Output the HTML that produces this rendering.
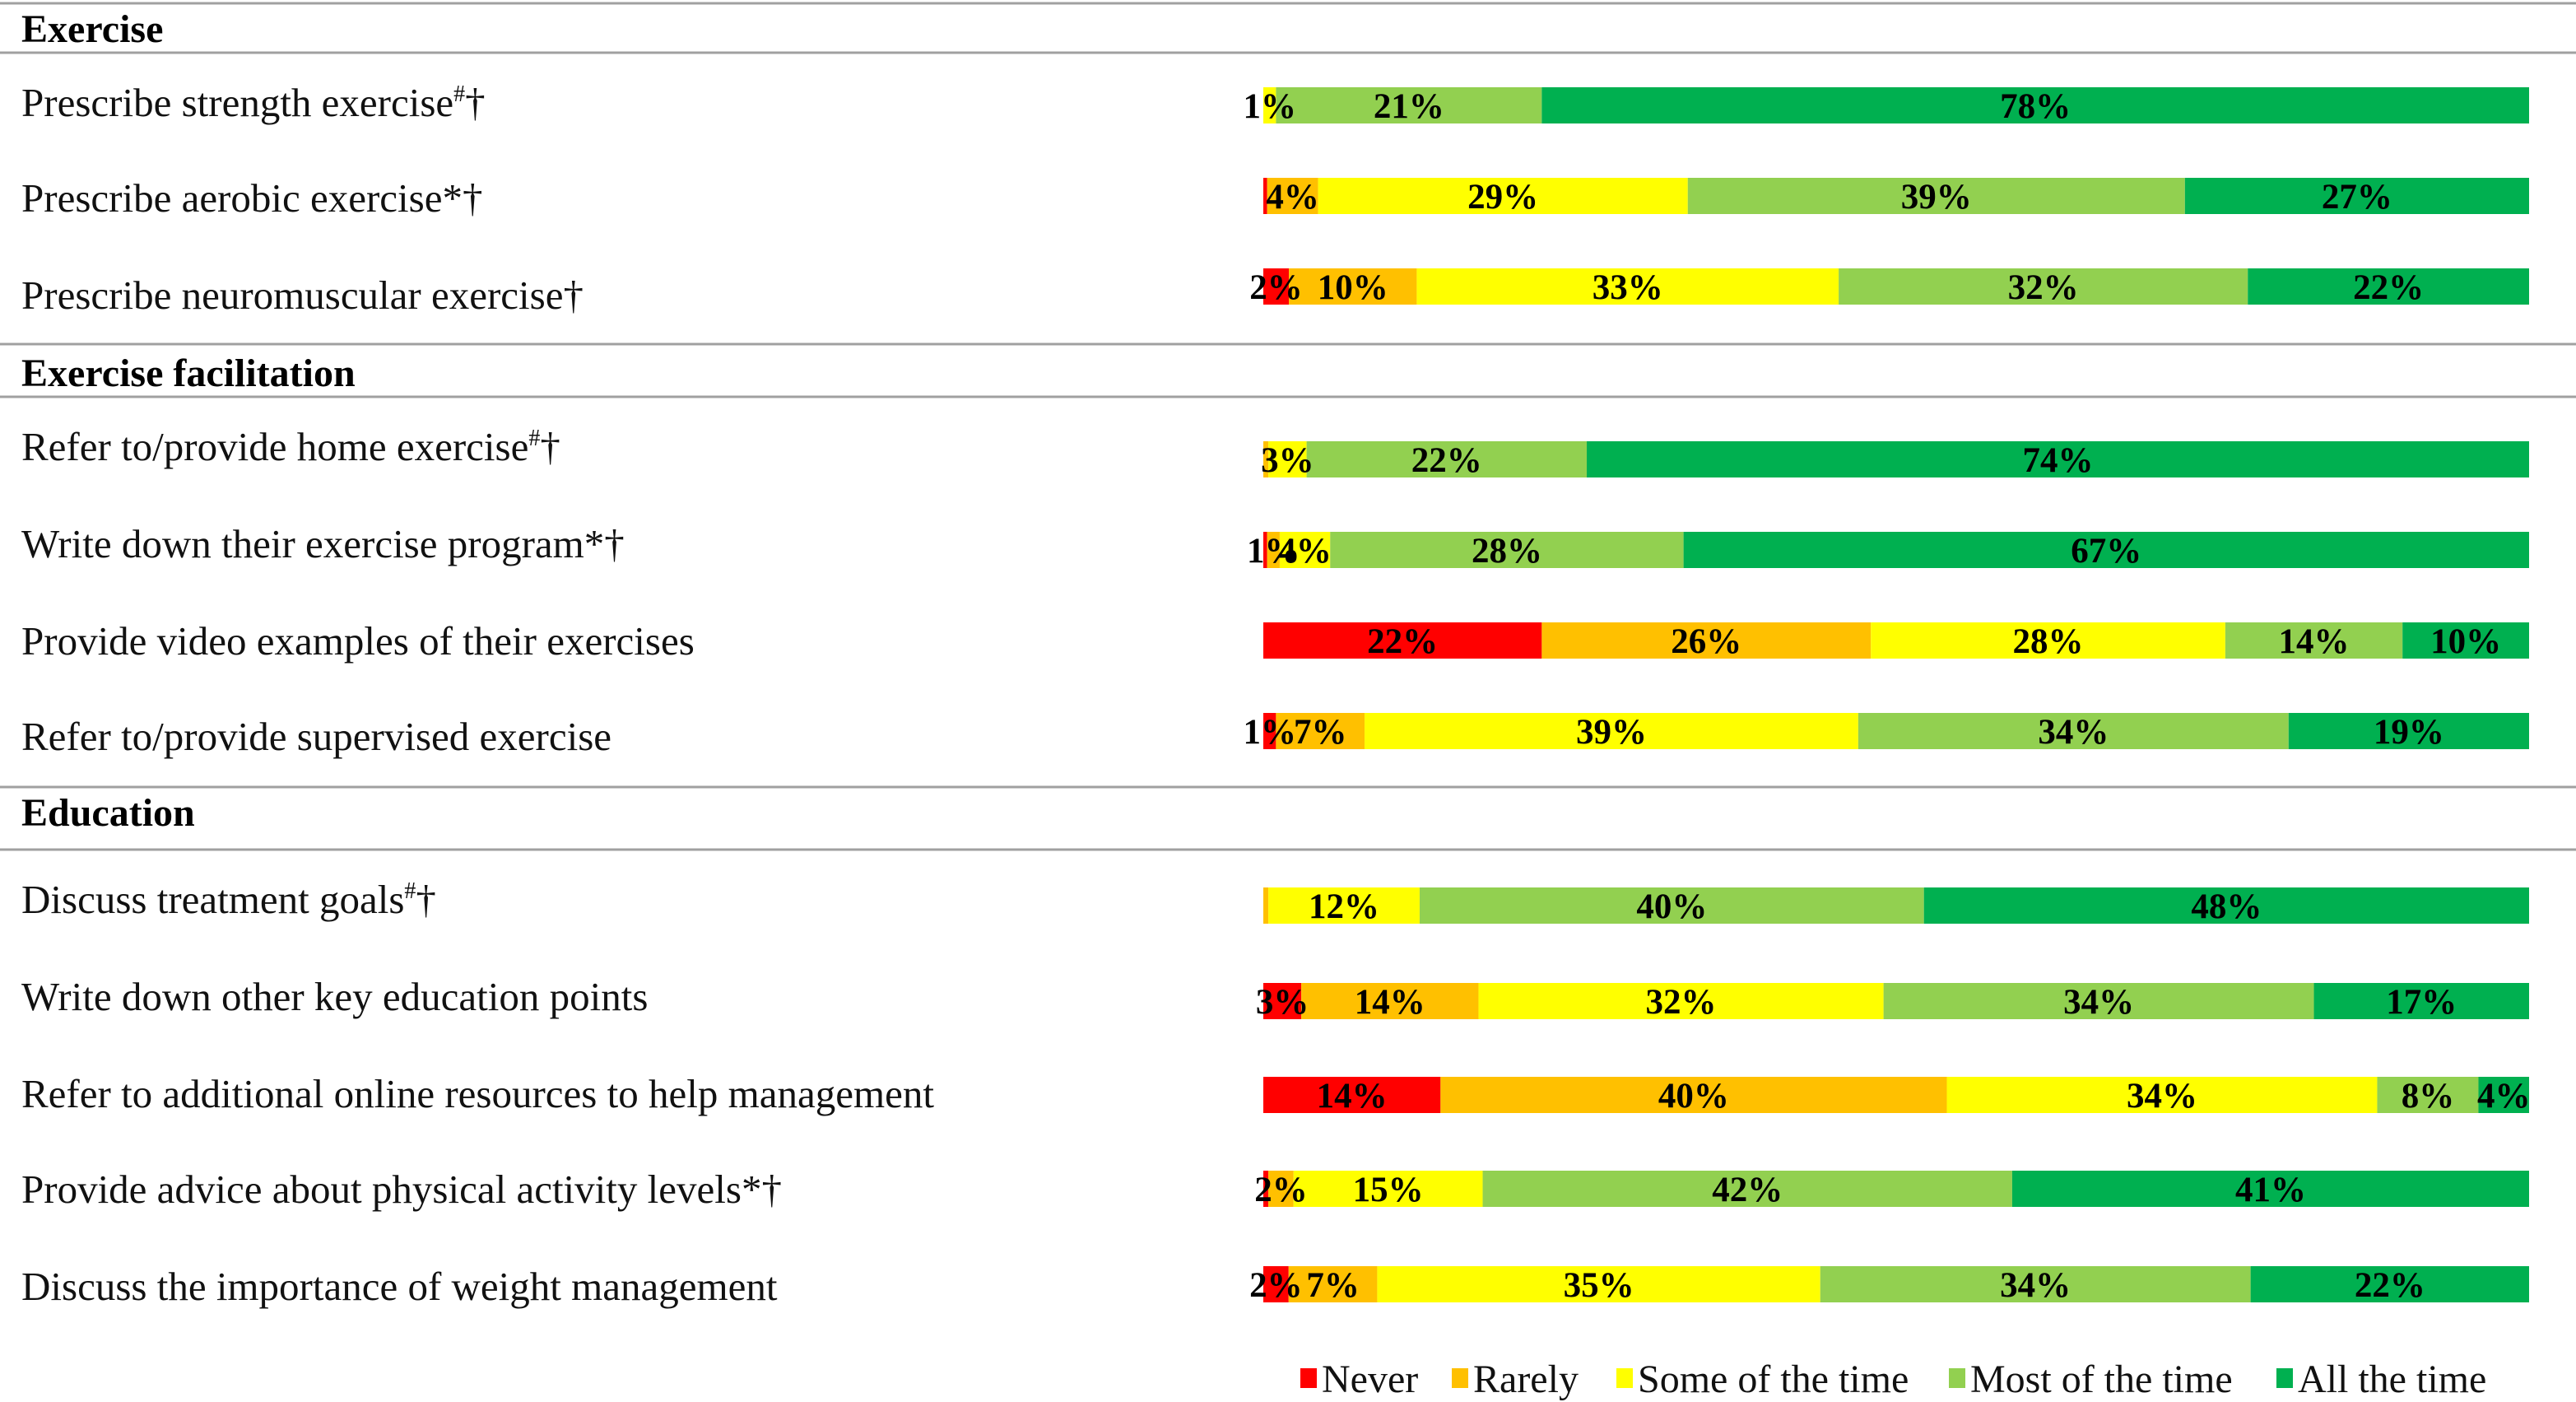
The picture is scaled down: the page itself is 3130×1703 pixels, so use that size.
<!DOCTYPE html>
<html><head><meta charset="utf-8"><style>
html,body{margin:0;padding:0;background:#fff;}
svg{display:block;}
</style></head><body>
<svg id="chart" width="3130" height="1703" viewBox="0 0 3130 1703" xmlns="http://www.w3.org/2000/svg" font-family="'Liberation Serif', serif">
<g id="lines" stroke="#a0a0a0" stroke-width="3">
<line x1="0" y1="4" x2="3130" y2="4"/>
<line x1="0" y1="64" x2="3130" y2="64"/>
<line x1="0" y1="418" x2="3130" y2="418"/>
<line x1="0" y1="482" x2="3130" y2="482"/>
<line x1="0" y1="956" x2="3130" y2="956"/>
<line x1="0" y1="1032" x2="3130" y2="1032"/>
</g>
<g font-weight="bold" font-size="48" fill="#000">
<text x="26" y="51">Exercise</text>
<text x="26" y="469">Exercise facilitation</text>
<text x="26" y="1003">Education</text>
</g>
<g id="labels" font-size="49" fill="#111"></g>
<g id="bars"></g>
<g id="legend" font-size="48" fill="#111"></g>
</svg>
<script>
const categories = [
"Prescribe strength exercise<tspan font-size='28' dy='-18'>#</tspan><tspan dy='18'>†</tspan>",
"Prescribe aerobic exercise*†",
"Prescribe neuromuscular exercise†",
"Refer to/provide home exercise<tspan font-size='28' dy='-18'>#</tspan><tspan dy='18'>†</tspan>",
"Write down their exercise program*†",
"Provide video examples of their exercises",
"Refer to/provide supervised exercise",
"Discuss treatment goals<tspan font-size='28' dy='-18'>#</tspan><tspan dy='18'>†</tspan>",
"Write down other key education points",
"Refer to additional online resources to help management",
"Provide advice about physical activity levels*†",
"Discuss the importance of weight management"
];
const never     = [0,   0.3, 2,  0,   0.3, 22, 1,  0,   3,  14, 0.4, 2];
const rarely    = [0,   4,   10, 0.4, 1,   26, 7,  0.4, 14, 40, 2,   7];
const sometimes = [1,   29,  33, 3,   4,   28, 39, 12,  32, 34, 15,  35];
const most      = [21,  39,  32, 22,  28,  14, 34, 40,  34, 8,  42,  34];
const always    = [78,  27,  22, 74,  67,  10, 19, 48,  17, 4,  41,  22];
const seriesNames = ["Never","Rarely","Some of the time","Most of the time","All the time"];
const colors = ["#ff0000","#ffc000","#ffff00","#92d050","#00b050"];

const labelY = [126,242,360,544,662,780,896,1094,1212,1330,1446,1564];
const barY = [128,238,348,558,668,778,888,1100,1216,1330,1444,1560];
const x0 = 1535, barW = 1538, barH = 44;
const NS = "http://www.w3.org/2000/svg";
const labG = document.getElementById('labels');
const barG = document.getElementById('bars');
const series = [never, rarely, sometimes, most, always];
const keys = ["never","rarely","some","most","all"];

categories.forEach((c, i) => {
  const t = document.createElementNS(NS, 'text');
  t.setAttribute('x', 26);
  t.setAttribute('y', labelY[i] + 15);
  t.innerHTML = c;
  
  
  labG.appendChild(t);
  const total = series.reduce((a, s) => a + s[i], 0);
  const xScale = v => x0 + v / total * barW;
  let cum = 0;
  series.forEach((s, k) => {
    const v = s[i];
    if (v <= 0) { return; }
    const r = document.createElementNS(NS, 'rect');
    r.setAttribute('x', xScale(cum));
    r.setAttribute('y', barY[i] - barH / 2);
    r.setAttribute('width', xScale(cum + v) - xScale(cum));
    r.setAttribute('height', barH);
    r.setAttribute('fill', colors[k]);
    
    
    barG.appendChild(r);
    cum += v;
  });
  cum = 0;
  series.forEach((s, k) => {
    const v = s[i];
    if (v >= 1) {
      const t2 = document.createElementNS(NS, 'text');
      t2.setAttribute('x', xScale(cum + v / 2));
      t2.setAttribute('y', barY[i] + 15);
      t2.setAttribute('text-anchor', 'middle');
      t2.setAttribute('font-weight', 'bold');
      t2.setAttribute('font-size', '43');
      t2.textContent = Math.round(v) + '%';
      
      
      barG.appendChild(t2);
    }
    cum += Math.max(v, 0);
  });
});

const legX = [1580, 1764, 1964, 2368, 2766];
const legG = document.getElementById('legend');
seriesNames.forEach((n, k) => {
  const sq = document.createElementNS(NS, 'rect');
  sq.setAttribute('x', legX[k]);
  sq.setAttribute('y', 1662);
  sq.setAttribute('width', 20);
  sq.setAttribute('height', 24);
  sq.setAttribute('fill', colors[k]);
  
  
  legG.appendChild(sq);
  const t = document.createElementNS(NS, 'text');
  t.setAttribute('x', legX[k] + 26);
  t.setAttribute('y', 1691);
  t.textContent = n;
  
  
  legG.appendChild(t);
});
</script>
</body></html>
